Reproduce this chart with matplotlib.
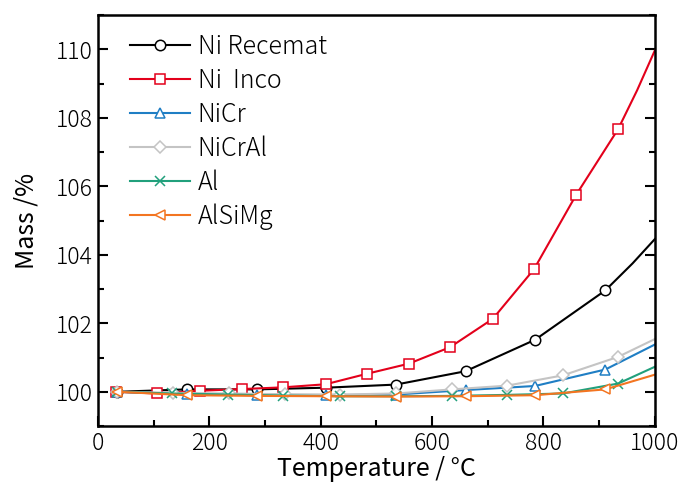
import numpy as np
import matplotlib
matplotlib.use("Agg")
import matplotlib.pyplot as plt
from matplotlib.ticker import MultipleLocator

plt.rcParams['font.family'] = ['Noto Sans CJK JP', 'DejaVu Sans']
plt.rcParams['font.weight'] = 'light'

# temperature (degC) and mass (%); last point is curve end
recemat_t = [35, 160, 285, 410, 535, 660, 785, 911, 960, 1000]
recemat_m = [100.0, 100.07, 100.07, 100.12, 100.21, 100.6, 101.52, 102.96, 103.75, 104.46]

inco_t = [32, 106, 184, 259, 333, 409, 484, 558, 632, 709, 783, 859, 934, 968, 1000]
inco_m = [100.0, 99.95, 100.03, 100.08, 100.13, 100.22, 100.53, 100.82, 101.3,
          102.13, 103.58, 105.76, 107.67, 108.8, 109.97]

nicr_t = [35, 160, 285, 410, 535, 660, 785, 911, 1000]
nicr_m = [100.0, 99.93, 99.9, 99.9, 99.92, 100.05, 100.17, 100.65, 101.38]

nicral_t = [35, 135, 235, 335, 435, 535, 636, 735, 835, 934, 1000]
nicral_m = [100.0, 99.97, 99.95, 99.93, 99.92, 99.95, 100.07, 100.18, 100.48, 101.02, 101.54]

al_t = [35, 133, 234, 333, 434, 535, 636, 735, 835, 934, 1000]
al_m = [100.0, 99.95, 99.92, 99.89, 99.87, 99.87, 99.88, 99.91, 99.95, 100.24, 100.73]

alsimg_t = [35, 160, 285, 409, 535, 660, 785, 911, 1000]
alsimg_m = [100.0, 99.9, 99.88, 99.87, 99.86, 99.87, 99.9, 100.07, 100.5]

series = [
    ("Ni Recemat", recemat_t, recemat_m, "black", "o", [0, 1, 2, 3, 4, 5, 6, 7]),
    ("Ni  Inco", inco_t, inco_m, "#e3001b", "s", list(range(13))),
    ("NiCr", nicr_t, nicr_m, "#1f7ec4", "^", list(range(8))),
    ("NiCrAl", nicral_t, nicral_m, "#c4c4c4", "D", list(range(10))),
    ("Al", al_t, al_m, "#21a07c", "x", list(range(10))),
    ("AlSiMg", alsimg_t, alsimg_m, "#f37521", "<", list(range(8))),
]

fig = plt.figure(figsize=(6.85, 4.88), dpi=100)
ax = fig.add_axes([0.143, 0.127, 0.813, 0.842])

for name, t, m, c, mk, every in series:
    ms = 6 if mk == "D" else 7.5
    ax.plot(t, m, color=c, lw=1.5, marker=mk, markevery=every, ms=ms,
            mfc="white", mec=c, mew=1.1, label=name)

ax.set_xlim(0, 1000)
ax.set_ylim(99, 111)
ax.xaxis.set_major_locator(MultipleLocator(200))
ax.xaxis.set_minor_locator(MultipleLocator(100))
ax.yaxis.set_major_locator(MultipleLocator(2))
ax.yaxis.set_minor_locator(MultipleLocator(1))
ax.tick_params(which="both", direction="in", top=True, right=True, labelsize=16.5, width=1.5)
ax.tick_params(which="major", length=7)
ax.tick_params(which="minor", length=4)
ax.tick_params(axis="x", which="both", top=False)
for s in ax.spines.values():
    s.set_linewidth(1.8)

ax.set_xlabel("Temperature / °C", fontsize=18, labelpad=0)
ax.set_ylabel("Mass /%", fontsize=18, labelpad=12)

ax.legend(loc="upper left", bbox_to_anchor=(0.04, 0.98), frameon=False,
          fontsize=18, handlelength=2.4, handletextpad=0.3, labelspacing=0.3,
          borderaxespad=0.0)

fig.savefig("out.png", dpi=100)
